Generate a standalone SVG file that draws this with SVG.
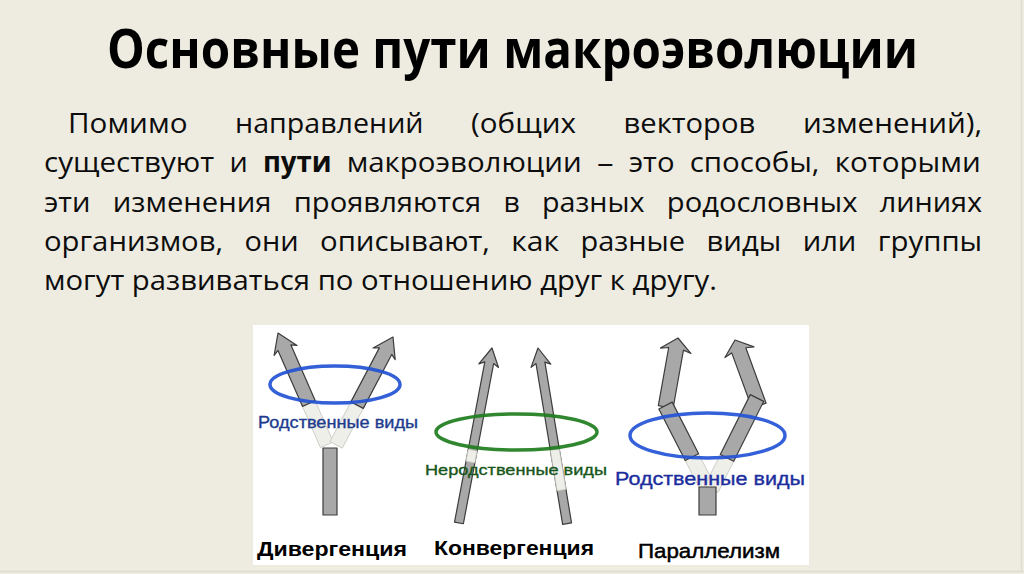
<svg xmlns="http://www.w3.org/2000/svg" width="1024" height="574" viewBox="0 0 1024 574">
<style>
.t{font-family:"Open Sans","Liberation Sans",sans-serif;font-weight:700;font-size:53px;fill:#000}
.b{font-family:"Open Sans","Liberation Sans",sans-serif;font-size:28px;fill:#0d0d0d}
.bb{font-weight:700}
.g{fill:#a8a8a8;stroke:#3c3c3c;stroke-width:1.2;stroke-linejoin:round}
.p{fill:#efefe9;stroke:#c9c9c2;stroke-width:0.8}
.lab{font-family:"Liberation Sans",Arial,sans-serif;stroke-width:0.35}
.cap{font-family:"Liberation Sans",Arial,sans-serif;font-size:21px;fill:#000}
</style>
<defs>
<polygon id="divArrow" points="0,0 12.5,19 7,16 7,77 -7,77 -7,16 -12.5,19"/>
<polygon id="convArrow" points="0,0 10,18 4.5,15 4.5,178 -4.5,178 -4.5,15 -10,18"/>
<polygon id="parArrow" points="0,0 15.5,13 7.5,11 7.5,70 -7.5,70 -7.5,11 -15.5,13"/>
</defs>
<rect x="0" y="0" width="1024" height="574" fill="#eeece1"/>
<line x1="1021.5" y1="0" x2="1021.5" y2="572" stroke="#dedbd0" stroke-width="1.5"/>
<line x1="0" y1="571.5" x2="1024" y2="571.5" stroke="#dedbd0" stroke-width="1.5"/>

<g id="title">
<text class="t" x="107" y="68" textLength="811" lengthAdjust="spacingAndGlyphs">Основные пути макроэволюции</text>
</g>

<g id="body-text" class="b">
<g id="line1">
<text x="68" y="133" textLength="119.5" lengthAdjust="spacingAndGlyphs">Помимо</text>
<text x="235.1" y="133" textLength="188.4" lengthAdjust="spacingAndGlyphs">направлений</text>
<text x="471.1" y="133" textLength="104.9" lengthAdjust="spacingAndGlyphs">(общих</text>
<text x="623.6" y="133" textLength="131.7" lengthAdjust="spacingAndGlyphs">векторов</text>
<text x="802.9" y="133" textLength="179.2" lengthAdjust="spacingAndGlyphs">изменений),</text>
</g>
<g id="line2">
<text x="44" y="172" textLength="170.2" lengthAdjust="spacingAndGlyphs">существуют</text>
<text x="229.4" y="172" textLength="18.3" lengthAdjust="spacingAndGlyphs">и</text>
<text class="bb" x="262.9" y="172" textLength="68.6" lengthAdjust="spacingAndGlyphs">пути</text>
<text x="346.7" y="172" textLength="235" lengthAdjust="spacingAndGlyphs">макроэволюции</text>
<text x="596.9" y="172" textLength="16.6" lengthAdjust="spacingAndGlyphs">–</text>
<text x="628.7" y="172" textLength="45.8" lengthAdjust="spacingAndGlyphs">это</text>
<text x="689.7" y="172" textLength="129.8" lengthAdjust="spacingAndGlyphs">способы,</text>
<text x="834.7" y="172" textLength="146" lengthAdjust="spacingAndGlyphs">которыми</text>
</g>
<g id="line3">
<text x="44" y="212" textLength="46.5" lengthAdjust="spacingAndGlyphs">эти</text>
<text x="112.8" y="212" textLength="158.7" lengthAdjust="spacingAndGlyphs">изменения</text>
<text x="293.7" y="212" textLength="187.4" lengthAdjust="spacingAndGlyphs">проявляются</text>
<text x="503.4" y="212" textLength="16.3" lengthAdjust="spacingAndGlyphs">в</text>
<text x="541.9" y="212" textLength="102.6" lengthAdjust="spacingAndGlyphs">разных</text>
<text x="666.8" y="212" textLength="190.7" lengthAdjust="spacingAndGlyphs">родословных</text>
<text x="879.7" y="212" textLength="102.5" lengthAdjust="spacingAndGlyphs">линиях</text>
</g>
<g id="line4">
<text x="44" y="251" textLength="179.1" lengthAdjust="spacingAndGlyphs">организмов,</text>
<text x="244.5" y="251" textLength="54.1" lengthAdjust="spacingAndGlyphs">они</text>
<text x="320" y="251" textLength="169.9" lengthAdjust="spacingAndGlyphs">описывают,</text>
<text x="511.3" y="251" textLength="47.8" lengthAdjust="spacingAndGlyphs">как</text>
<text x="580.5" y="251" textLength="104.6" lengthAdjust="spacingAndGlyphs">разные</text>
<text x="706.5" y="251" textLength="74.8" lengthAdjust="spacingAndGlyphs">виды</text>
<text x="802.7" y="251" textLength="53.7" lengthAdjust="spacingAndGlyphs">или</text>
<text x="877.8" y="251" textLength="104.4" lengthAdjust="spacingAndGlyphs">группы</text>
</g>
<g id="line5">
<text x="44" y="290" textLength="673" lengthAdjust="spacingAndGlyphs">могут развиваться по отношению друг к другу.</text>
</g>
</g>

<g id="panel">
<rect x="253" y="325" width="556" height="240" fill="#ffffff"/>
</g>

<g id="divergence">
<g transform="translate(278,333) rotate(-23.6)">
<rect class="p" x="-7" y="76" width="14" height="46"/>
<use href="#divArrow" class="g"/>
</g>
<g transform="translate(393,337) rotate(27.8)">
<rect class="p" x="-7" y="75" width="14" height="47"/>
<use href="#divArrow" class="g"/>
</g>
<rect class="g" x="323" y="448" width="14" height="67"/>
<ellipse cx="335" cy="384.5" rx="65" ry="18.5" fill="none" stroke="#2352d4" stroke-width="3.5" stroke-opacity="0.92"/>
<text class="lab" x="258" y="428" font-size="16" fill="#1d3c8e" stroke="#1d3c8e" textLength="160" lengthAdjust="spacingAndGlyphs">Родственные виды</text>
<text class="cap" x="257" y="556" font-weight="700" textLength="150" lengthAdjust="spacingAndGlyphs">Дивергенция</text>
</g>

<g id="convergence">
<g transform="translate(492,348) rotate(10.7)">
<use href="#convArrow" class="g"/>
<rect class="p" x="-4.5" y="104" width="9" height="12"/>
</g>
<g transform="translate(538,348) rotate(-9.4)">
<use href="#convArrow" class="g"/>
<rect class="p" x="-4.5" y="103" width="9" height="41"/>
</g>
<ellipse cx="516.5" cy="432" rx="80.5" ry="18" fill="none" stroke="#1e7d1e" stroke-width="3.5" stroke-opacity="0.92"/>
<text class="lab" x="425" y="475" font-size="15.5" fill="#17561a" stroke="#17561a" textLength="182" lengthAdjust="spacingAndGlyphs">Неродственные виды</text>
<text class="cap" x="434" y="555" font-weight="700" textLength="160" lengthAdjust="spacingAndGlyphs">Конвергенция</text>
</g>

<g id="parallelism">
<g transform="translate(665.5,405.5) rotate(-27.1)">
<rect class="p" x="-7.5" y="58" width="15" height="36"/>
</g>
<g transform="translate(757,398) rotate(26.6)">
<rect class="p" x="-7.5" y="67" width="15" height="35"/>
</g>
<rect class="g" x="699" y="487" width="17" height="28"/>
<g transform="translate(678,338) rotate(10.1)">
<use href="#parArrow" class="g"/>
</g>
<g transform="translate(735,340) rotate(-20.1)">
<use href="#parArrow" class="g"/>
</g>
<g transform="translate(665.5,405.5) rotate(-27.1)">
<rect class="g" x="-7.5" y="0" width="15" height="58"/>
</g>
<g transform="translate(757,398) rotate(26.6)">
<rect class="g" x="-7.5" y="0" width="15" height="67"/>
</g>
<ellipse cx="707.5" cy="435.5" rx="77.5" ry="22.5" fill="none" stroke="#2352d6" stroke-width="3.5" stroke-opacity="0.92"/>
<text class="lab" x="615" y="485" font-size="18" fill="#1c2e9e" stroke="#1c2e9e" textLength="190" lengthAdjust="spacingAndGlyphs">Родственные виды</text>
<text class="cap" x="638" y="558" stroke="#000" stroke-width="0.5" textLength="142" lengthAdjust="spacingAndGlyphs">Параллелизм</text>
</g>
</svg>
